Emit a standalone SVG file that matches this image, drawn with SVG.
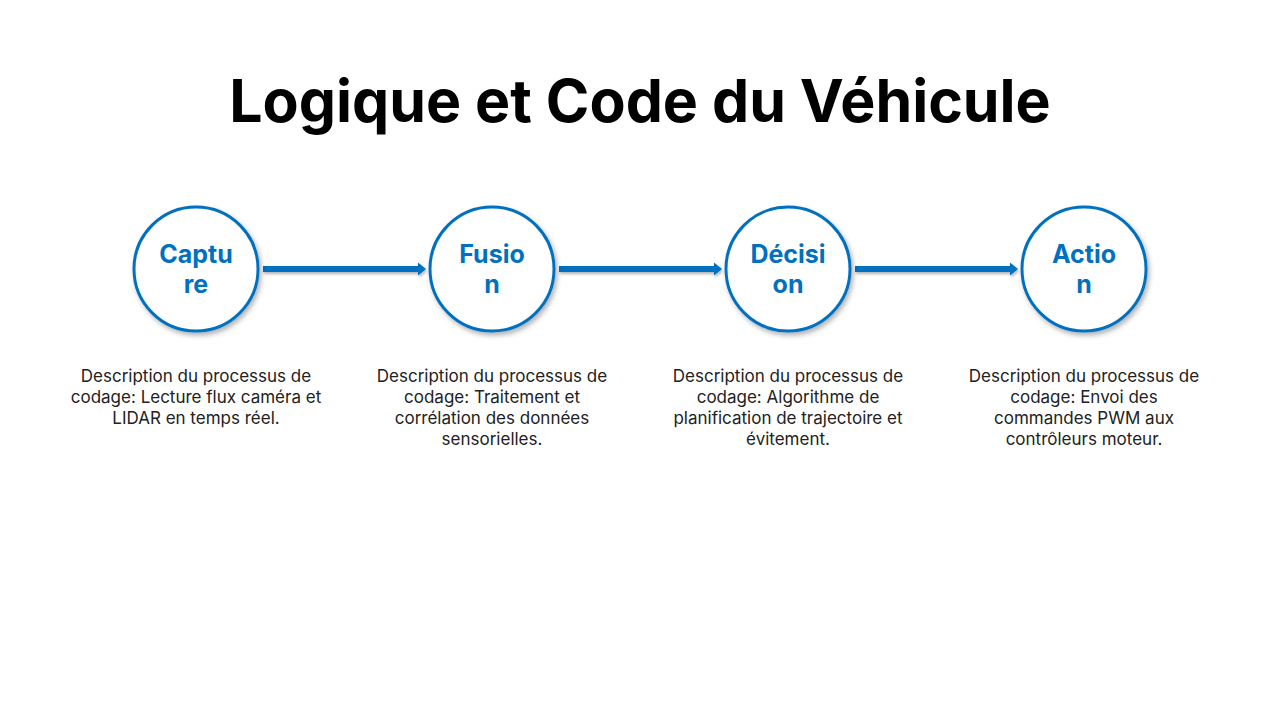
<svg xmlns="http://www.w3.org/2000/svg" width="1280" height="720" viewBox="0 0 1280 720">
<defs>
<filter id="sh" x="-20%" y="-20%" width="150%" height="150%"><feDropShadow dx="2" dy="3" stdDeviation="2.5" flood-color="#000" flood-opacity="0.3"/></filter>
<filter id="sha" x="-10%" y="-200%" width="120%" height="500%" filterUnits="objectBoundingBox"><feDropShadow dx="1" dy="2" stdDeviation="1.5" flood-color="#000" flood-opacity="0.3"/></filter>
</defs>
<style>
.c{fill:#fff;stroke:#0070C0;stroke-width:3;filter:url(#sh)}
.t{font-family:Inter,"Liberation Sans",sans-serif;font-weight:700;font-size:25px;fill:#0070C0;text-anchor:middle}
.d{font-family:Inter,"Liberation Sans",sans-serif;font-size:17px;fill:#222;text-anchor:middle}
.a{fill:#0070C0;filter:url(#sha)}
</style>
<rect width="1280" height="720" fill="#fff"/>
<text x="640" y="122" font-family="Inter,'Liberation Sans',sans-serif" font-weight="700" font-size="59" text-anchor="middle" fill="#000">Logique et Code du Véhicule</text>
<g id="connectors">
<path class="a" d="M263,266 H418 V262.5 L426,269 L418,275.5 V272 H263 Z"/>
<path class="a" d="M559,266 H714 V262.5 L722,269 L714,275.5 V272 H559 Z"/>
<path class="a" d="M855,266 H1010 V262.5 L1018,269 L1010,275.5 V272 H855 Z"/>
</g>
<g id="n1"><circle class="c" cx="196" cy="269" r="62"/><text class="t" x="196" y="263">Captu</text><text class="t" x="196" y="293">re</text>
<text class="d" x="196" y="382">Description du processus de</text><text class="d" x="196" y="403">codage: Lecture flux caméra et</text><text class="d" x="196" y="424">LIDAR en temps réel.</text></g>
<g id="n2"><circle class="c" cx="492" cy="269" r="62"/><text class="t" x="492" y="263">Fusio</text><text class="t" x="492" y="293">n</text>
<text class="d" x="492" y="382">Description du processus de</text><text class="d" x="492" y="403">codage: Traitement et</text><text class="d" x="492" y="424">corrélation des données</text><text class="d" x="492" y="445">sensorielles.</text></g>
<g id="n3"><circle class="c" cx="788" cy="269" r="62"/><text class="t" x="788" y="263">Décisi</text><text class="t" x="788" y="293">on</text>
<text class="d" x="788" y="382">Description du processus de</text><text class="d" x="788" y="403">codage: Algorithme de</text><text class="d" x="788" y="424">planification de trajectoire et</text><text class="d" x="788" y="445">évitement.</text></g>
<g id="n4"><circle class="c" cx="1084" cy="269" r="62"/><text class="t" x="1084" y="263">Actio</text><text class="t" x="1084" y="293">n</text>
<text class="d" x="1084" y="382">Description du processus de</text><text class="d" x="1084" y="403">codage: Envoi des</text><text class="d" x="1084" y="424">commandes PWM aux</text><text class="d" x="1084" y="445">contrôleurs moteur.</text></g>
</svg>
